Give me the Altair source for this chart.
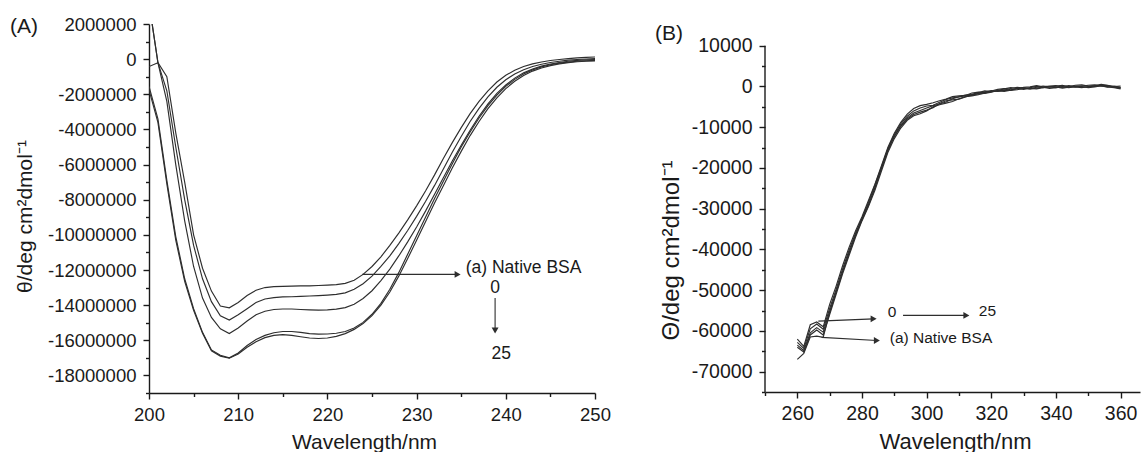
import altair as alt
import pandas as pd

FONT = "Liberation Sans"
INK = "#1a1a1a"
LINE = "#2e2e2e"

# ---------------- Panel A: far-UV CD spectra (values in 1e6 deg cm2 dmol-1) ----------------
wl_far = list(range(200, 251))

far_native = [3.2, -0.2, -1.0, -4.2, -7.0, -10.0, -11.9, -13.2, -14.05, -14.15,
              -13.85, -13.45, -13.15, -13.0, -12.95, -12.93, -12.92, -12.9, -12.9, -12.88,
              -12.86, -12.83, -12.76, -12.58, -12.25, -11.8, -11.25, -10.6, -9.9, -9.15,
              -8.35, -7.5, -6.6, -5.65, -4.75, -3.9, -3.1, -2.4, -1.8, -1.3,
              -0.92, -0.63, -0.42, -0.27, -0.16, -0.08, -0.02, 0.03, 0.07, 0.1, 0.12]
far_t0 = [-0.42, -0.2, -1.8, -5.0, -8.0, -10.6, -12.5, -13.8, -14.6, -14.85,
          -14.55, -14.2, -13.85, -13.65, -13.57, -13.53, -13.52, -13.5, -13.48, -13.46,
          -13.43, -13.39, -13.3, -13.1, -12.78, -12.35, -11.8, -11.2, -10.5, -9.75,
          -8.95, -8.1, -7.2, -6.25, -5.3, -4.4, -3.55, -2.8, -2.15, -1.6,
          -1.17, -0.84, -0.6, -0.42, -0.29, -0.19, -0.12, -0.06, -0.02, 0.01, 0.03]
far_t1 = [3.2, -0.2, -2.4, -6.0, -9.2, -11.8, -13.6, -14.7, -15.35, -15.62,
          -15.3, -14.9, -14.55, -14.35, -14.25, -14.22, -14.22, -14.25, -14.27, -14.28,
          -14.27, -14.23, -14.14, -13.95, -13.62, -13.18, -12.6, -11.95, -11.2, -10.4,
          -9.55, -8.65, -7.7, -6.75, -5.8, -4.9, -4.05, -3.25, -2.55, -1.95,
          -1.47, -1.08, -0.78, -0.56, -0.4, -0.28, -0.19, -0.12, -0.07, -0.04, -0.02]
far_t2 = [-1.55, -3.4, -6.9, -10.1, -12.5, -14.2, -15.55, -16.55, -16.85, -17.0,
          -16.72, -16.3, -15.95, -15.72, -15.57, -15.5, -15.5, -15.55, -15.62, -15.65,
          -15.64, -15.6, -15.5, -15.3, -14.98, -14.52, -13.9, -13.1, -12.15, -11.1,
          -10.05, -9.0, -7.95, -6.95, -5.95, -5.0, -4.15, -3.35, -2.65, -2.05,
          -1.55, -1.15, -0.84, -0.61, -0.44, -0.32, -0.23, -0.17, -0.12, -0.09, -0.07]
far_t3 = [-1.75, -3.6, -7.1, -10.3, -12.65, -14.3, -15.6, -16.6, -16.9, -17.02,
          -16.78, -16.4, -16.08, -15.85, -15.72, -15.68, -15.72, -15.8, -15.87, -15.9,
          -15.87, -15.78, -15.62, -15.38, -15.05, -14.6, -14.0, -13.25, -12.35, -11.35,
          -10.3, -9.25, -8.2, -7.2, -6.2, -5.25, -4.35, -3.55, -2.82, -2.2,
          -1.68, -1.26, -0.93, -0.68, -0.5, -0.37, -0.27, -0.2, -0.15, -0.12, -0.1]

far_series = {"native": far_native, "t0": far_t0, "t1": far_t1, "t2": far_t2, "t3": far_t3}

# ---------------- Panel B: near-UV CD spectra ----------------
wl_near = list(range(260, 361, 2))

near_native = [-67000, -65500, -61500, -61300, -61600, -55500, -50500, -45500, -41000, -36500,
               -32500, -29000, -25000, -20000, -15500, -12300, -9800, -8000, -6900, -6300,
               -5800, -5200, -4200, -3500, -3300, -3100, -2600, -2000, -1800, -1700,
               -1400, -1000, -900, -1000, -800, -500, -600, -400, -200, -500,
               -300, -100, -300, 0, -200, -100, 100, 200, -100, -300, -600]
near_t0 = [-62000, -63800, -58500, -57800, -59000, -53500, -49000, -44000, -39500, -35500,
           -32000, -28000, -24000, -19500, -15000, -11500, -8800, -6800, -5400, -4700,
           -4400, -4000, -3500, -3100, -2500, -2300, -2200, -1600, -1400, -1500,
           -1100, -700, -500, -800, -600, -200, -100, 200, -100, 100,
           200, -200, 0, 300, 400, 100, 0, 300, 200, 0, 100]
near_t1 = [-62800, -64300, -59500, -58300, -59600, -54500, -49800, -44800, -40200, -36000,
           -32400, -28500, -24200, -19800, -15300, -11800, -9200, -7300, -6000, -5300,
           -4800, -4600, -3900, -3200, -2800, -2600, -2100, -1900, -1500, -1100,
           -1300, -1000, -600, -300, -500, -700, -300, 0, -300, -200,
           100, 300, -100, -200, 100, 300, 400, 100, -200, 100, -200]
near_t2 = [-63500, -64800, -60500, -59200, -60300, -55200, -50500, -45500, -40800, -36500,
           -32700, -29200, -24800, -20300, -15800, -12200, -9600, -7700, -6500, -5900,
           -5300, -4700, -4300, -3800, -3000, -2500, -2300, -2200, -1700, -1300,
           -1000, -1200, -900, -500, -200, -400, -600, -200, 100, -100,
           -300, 0, 200, -100, -300, 0, 200, 500, 300, -100, -300]
near_t3 = [-64000, -65200, -61000, -59800, -61000, -56000, -51000, -46000, -41500, -37000,
           -33000, -29500, -25500, -20800, -16200, -12800, -10200, -8300, -7200, -6700,
           -6000, -5000, -4500, -4100, -3700, -3000, -2500, -2300, -2000, -1600,
           -1300, -1100, -1200, -900, -500, -300, -500, -600, -300, 0,
           -100, -400, -200, 100, 0, -300, -100, 200, 0, -200, -400]

near_series = {"native": near_native, "t0": near_t0, "t1": near_t1, "t2": near_t2, "t3": near_t3}

# ---------------- Annotations (data coordinates) ----------------
far_labels = pd.DataFrame({
    "wl": [235.5, 238.8, 239.5],
    "val": [-11.86e6, -13.0e6, -16.77e6],
    "text": ["(a) Native BSA", "0", "25"],
    "align": ["left", "center", "center"],
})
far_arrows = pd.DataFrame({
    "x": [223.9, 238.8], "y": [-12.25e6, -13.6e6],
    "x2": [234.6, 238.8], "y2": [-12.25e6, -15.45e6],
    "head": ["triangle-right", "triangle-down"],
})

near_labels = pd.DataFrame({
    "wl": [289.3, 318.8, 288.6],
    "val": [-55400, -55000, -61700],
    "text": ["0", "25", "(a) Native BSA"],
    "align": ["center", "center", "left"],
})
near_arrows = pd.DataFrame({
    "x": [266.5, 292.7, 267.5], "y": [-57600, -56200, -61600],
    "x2": [283.6, 312.3, 284.6], "y2": [-57050, -56200, -62350],
    "head": ["triangle-right", "triangle-right", "triangle-right"],
})


def long_frame(wl, series, scale=1.0):
    rows = []
    for name, vals in series.items():
        for w, v in zip(wl, vals):
            rows.append({"wl": w, "val": v * scale, "curve": name})
    return pd.DataFrame(rows)


def make_axis(title, ticks, major_test, label_size, title_size, label_pad,
              title_x, title_y, title_baseline, domain=True):
    return alt.Axis(
        title=title, values=ticks, grid=False, domain=domain,
        labelExpr=f"({major_test}) ? '' + datum.value : ''",
        labelOverlap=False, labelFlush=False, labelBound=False,
        labelFont=FONT, labelFontSize=label_size, labelColor=INK, labelPadding=label_pad,
        tickSize={"condition": {"test": major_test, "value": 6}, "value": 3.5},
        tickWidth=1.4, tickColor=INK, domainColor=INK, domainWidth=1.4,
        titleFont=FONT, titleFontSize=title_size, titleFontWeight="normal", titleColor=INK,
        titleX=title_x, titleY=title_y, titleBaseline=title_baseline, titleAlign="center",
    )


def build(df, labels, arrows, cfg):
    xs = alt.Scale(domain=cfg["xdom"], nice=False, zero=False)
    ys = alt.Scale(domain=cfg["ydom"], nice=False, zero=False)
    xax = make_axis("Wavelength/nm", cfg["xticks"], cfg["xmajor"], cfg["ls"], cfg["xts"], 6,
                    cfg["xtx"], cfg["xty"], "alphabetic")
    yax = make_axis(cfg["ytitle"], cfg["yticks"], cfg["ymajor"], cfg["ls"], cfg["yts"], cfg["ylp"],
                    cfg["ytx"], cfg["yty"], "middle", domain=cfg["ydomain_line"])
    X = lambda f: alt.X(f, scale=xs, axis=xax)
    Y = lambda f: alt.Y(f, scale=ys, axis=yax)

    layers = []
    layers.append(alt.Chart(df).mark_line(clip=True, color=LINE, strokeWidth=1.15).encode(
        x=X("wl:Q"), y=Y("val:Q"), detail="curve:N"))
    if not cfg["ydomain_line"]:
        # y axis line spanning only the labelled range
        span = pd.DataFrame({"top": [cfg["yline"][0]], "bottom": [cfg["yline"][1]]})
        layers.append(alt.Chart(span).mark_rule(color=INK, strokeWidth=1.4).encode(
            x=alt.value(0), y=Y("top:Q"), y2="bottom:Q"))
    layers.append(alt.Chart(arrows).mark_rule(color=LINE, strokeWidth=1.1).encode(
        x=X("x:Q"), y=Y("y:Q"), x2="x2:Q", y2="y2:Q"))
    layers.append(alt.Chart(arrows).mark_point(filled=True, color=LINE, opacity=1, size=48).encode(
        x=X("x2:Q"), y=Y("y2:Q"), shape=alt.Shape("head:N", scale=None, legend=None)))
    layers.append(alt.Chart(labels[labels["align"] == "left"]).mark_text(
        font=FONT, fontSize=cfg["as"], color=INK, align="left", baseline="middle").encode(
        x=X("wl:Q"), y=Y("val:Q"), text="text:N"))
    layers.append(alt.Chart(labels[labels["align"] == "center"]).mark_text(
        font=FONT, fontSize=cfg["as"], color=INK, align="center", baseline="middle").encode(
        x=X("wl:Q"), y=Y("val:Q"), text="text:N"))
    layers.append(alt.Chart(pd.DataFrame({"t": [cfg["tag"]]})).mark_text(
        font=FONT, fontSize=cfg["tag_size"], color=INK, align="left", baseline="middle").encode(
        x=alt.value(cfg["tag_x"]), y=alt.value(cfg["tag_y"]), text="t:N"))
    # transparent rule that fixes the panel's outer extent for the concat layout
    layers.append(alt.Chart(pd.DataFrame({"t": [0]})).mark_rule(opacity=0, strokeWidth=0.01).encode(
        x=alt.value(cfg["fx0"]), x2=alt.value(cfg["fx1"]), y=alt.value(cfg["fy"]), y2=alt.value(cfg["fy"])))
    return alt.layer(*layers).properties(width=cfg["w"], height=cfg["h"])


far_df = long_frame(wl_far, far_series, 1e6)
near_df = long_frame(wl_near, near_series)

far_cfg = dict(
    xdom=[200, 250], ydom=[-19e6, 2e6], ydomain_line=True,
    xticks=list(range(200, 251, 5)), xmajor="datum.value % 10 === 0",
    yticks=list(range(-19000000, 2000001, 1000000)), ymajor="datum.value % 2000000 === 0",
    w=446, h=369, ytitle="θ/deg cm²dmol⁻¹", ls=18.5, xts=21, yts=21, ylp=7, **{"as": 17.5},
    ytx=-124, yty=192, xtx=215, xty=55,
    tag="(A)", tag_size=21, tag_x=-139, tag_y=3,
    fx0=-140, fx1=466, fy=-12,
)
near_cfg = dict(
    xdom=[250, 366], ydom=[-75000, 15331], ydomain_line=False, yline=[10000, -75000],
    xticks=list(range(250, 361, 10)), xmajor="datum.value % 20 === 0",
    yticks=list(range(-75000, 10001, 5000)), ymajor="datum.value % 10000 === 0",
    w=375, h=368, ytitle="Θ/deg cm²dmol⁻¹", ls=19.5, xts=22, yts=24, ylp=7, **{"as": 15.5},
    ytx=-94, yty=226, xtx=190, xty=56,
    tag="(B)", tag_size=21, tag_x=-110, tag_y=9.5,
    fx0=-115, fx1=376, fy=-12,
)

left = build(far_df, far_labels, far_arrows, far_cfg)
right = build(near_df, near_labels, near_arrows, near_cfg)

chart = alt.hconcat(left, right, spacing=35).properties(
    padding={"left": 9, "top": 12, "right": 0, "bottom": 0},
    background="white",
).configure_view(stroke=None)

chart.save("out.html", embed_options={"renderer": "svg", "actions": False})
